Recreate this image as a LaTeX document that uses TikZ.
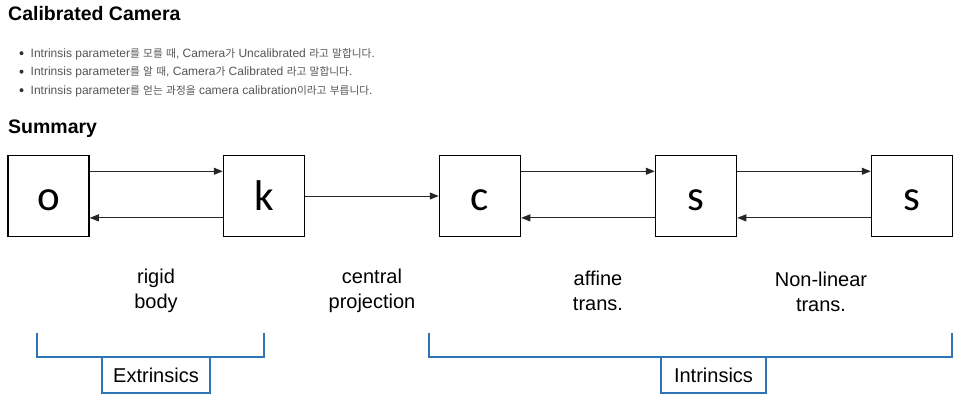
\documentclass[tikz,border=0pt]{standalone}
\usepackage{fontspec}
\setmainfont{Liberation Sans}
\newfontfamily\krfont[Scale=0.89]{Noto Sans CJK KR}
\newfontfamily\boxfont{Carlito}
\usetikzlibrary{arrows.meta,calc}
\definecolor{bluebr}{HTML}{2E75B6}
\definecolor{txtgray}{HTML}{555555}
\begin{document}
\begin{tikzpicture}[x=1pt,y=-1pt,
  stage/.style={draw, line width=1.5pt, minimum size=81pt, inner sep=0pt,
    font=\boxfont\fontsize{43}{43}\selectfont, text height=28pt, text depth=0pt},
  flow/.style={line width=0.9pt, draw=black!85, -{Triangle[length=9pt,width=7pt]}},
  lbl/.style={anchor=base, font=\fontsize{20}{25}\selectfont, inner sep=0pt},
  brk/.style={draw=bluebr, line width=2pt},
  brkbox/.style={draw=bluebr, line width=2pt, fill=white, font=\fontsize{20}{24}\selectfont, inner sep=0pt},
  bul/.style={anchor=base west, inner sep=0pt, text=txtgray, font=\fontsize{12}{14}\selectfont},
  dot/.style={circle, fill=black!80, inner sep=0pt, minimum size=4pt},
  head/.style={anchor=base west, inner sep=0pt, font=\bfseries\fontsize{19.5}{22}\selectfont}]
\useasboundingbox[fill=white] (0,0) rectangle (960,400);
% headings and bullets
\node[head] (title) at (8,20) {Calibrated Camera};
\node[dot] (d1) at (21.5,53.2) {};
\node[dot] (d2) at (21.5,71.7) {};
\node[dot] (d3) at (21.5,90.2) {};
\node[bul] (b1) at (30.5,57) {Intrinsis parameter{\krfont 를} {\krfont 모를} {\krfont 때}, Camera{\krfont 가} Uncalibrated {\krfont 라고} {\krfont 말합니다}.};
\node[bul] (b2) at (30.5,75.5) {Intrinsis parameter{\krfont 를} {\krfont 알} {\krfont 때}, Camera{\krfont 가} Calibrated {\krfont 라고} {\krfont 말합니다}.};
\node[bul] (b3) at (30.5,94) {Intrinsis parameter{\krfont 를} {\krfont 얻는} {\krfont 과정을} camera calibration{\krfont 이라고} {\krfont 부릅니다}.};
\node[head] (summary) at (8,133) {Summary};
% stages
\node[stage] (o) at (48.5,196) {o};
\node[stage] (k) at (264,196) {k};
\node[stage] (c) at (480,196) {c};
\node[stage] (s1) at (696,196) {s};
\node[stage] (s2) at (912,196) {s};
% connectors
\draw[flow] ($(o.north east)!0.2!(o.south east)$) -- ($(k.north west)!0.2!(k.south west)$);
\draw[flow] ($(k.north west)!0.765!(k.south west)$) -- ($(o.north east)!0.765!(o.south east)$);
\draw[flow] (k.east) -- (c.west);
\draw[flow] ($(c.north east)!0.2!(c.south east)$) -- ($(s1.north west)!0.2!(s1.south west)$);
\draw[flow] ($(s1.north west)!0.765!(s1.south west)$) -- ($(c.north east)!0.765!(c.south east)$);
\draw[flow] ($(s1.north east)!0.2!(s1.south east)$) -- ($(s2.north west)!0.2!(s2.south west)$);
\draw[flow] ($(s2.north west)!0.765!(s2.south west)$) -- ($(s1.north east)!0.765!(s1.south east)$);
% labels
\node[lbl] (l1a) at (156,283) {rigid};
\node[lbl] (l1b) at (156,308) {body};
\node[lbl] (l2a) at (372,283) {central};
\node[lbl] (l2b) at (372,308) {projection};
\node[lbl] (l3a) at (598,285) {affine};
\node[lbl] (l3b) at (598,310) {trans.};
\node[lbl] (l4a) at (821,286.5) {Non-linear};
\node[lbl] (l4b) at (821,311.5) {trans.};
% brackets
\coordinate (eLt) at (37,333);
\coordinate (eLb) at (37,357);
\coordinate (eRb) at (264,357);
\coordinate (eRt) at (264,333);
\draw[brk] (eLt) -- (eLb) -- (eRb) -- (eRt);
\node[brkbox, minimum width=108pt, minimum height=36pt] (ext) at (156,375) {Extrinsics};
\coordinate (iLt) at (429,333);
\coordinate (iLb) at (429,357);
\coordinate (iRb) at (952,357);
\coordinate (iRt) at (952,333);
\draw[brk] (iLt) -- (iLb) -- (iRb) -- (iRt);
\node[brkbox, minimum width=105pt, minimum height=36pt] (int) at (713.5,375) {Intrinsics};
\end{tikzpicture}
\end{document}
